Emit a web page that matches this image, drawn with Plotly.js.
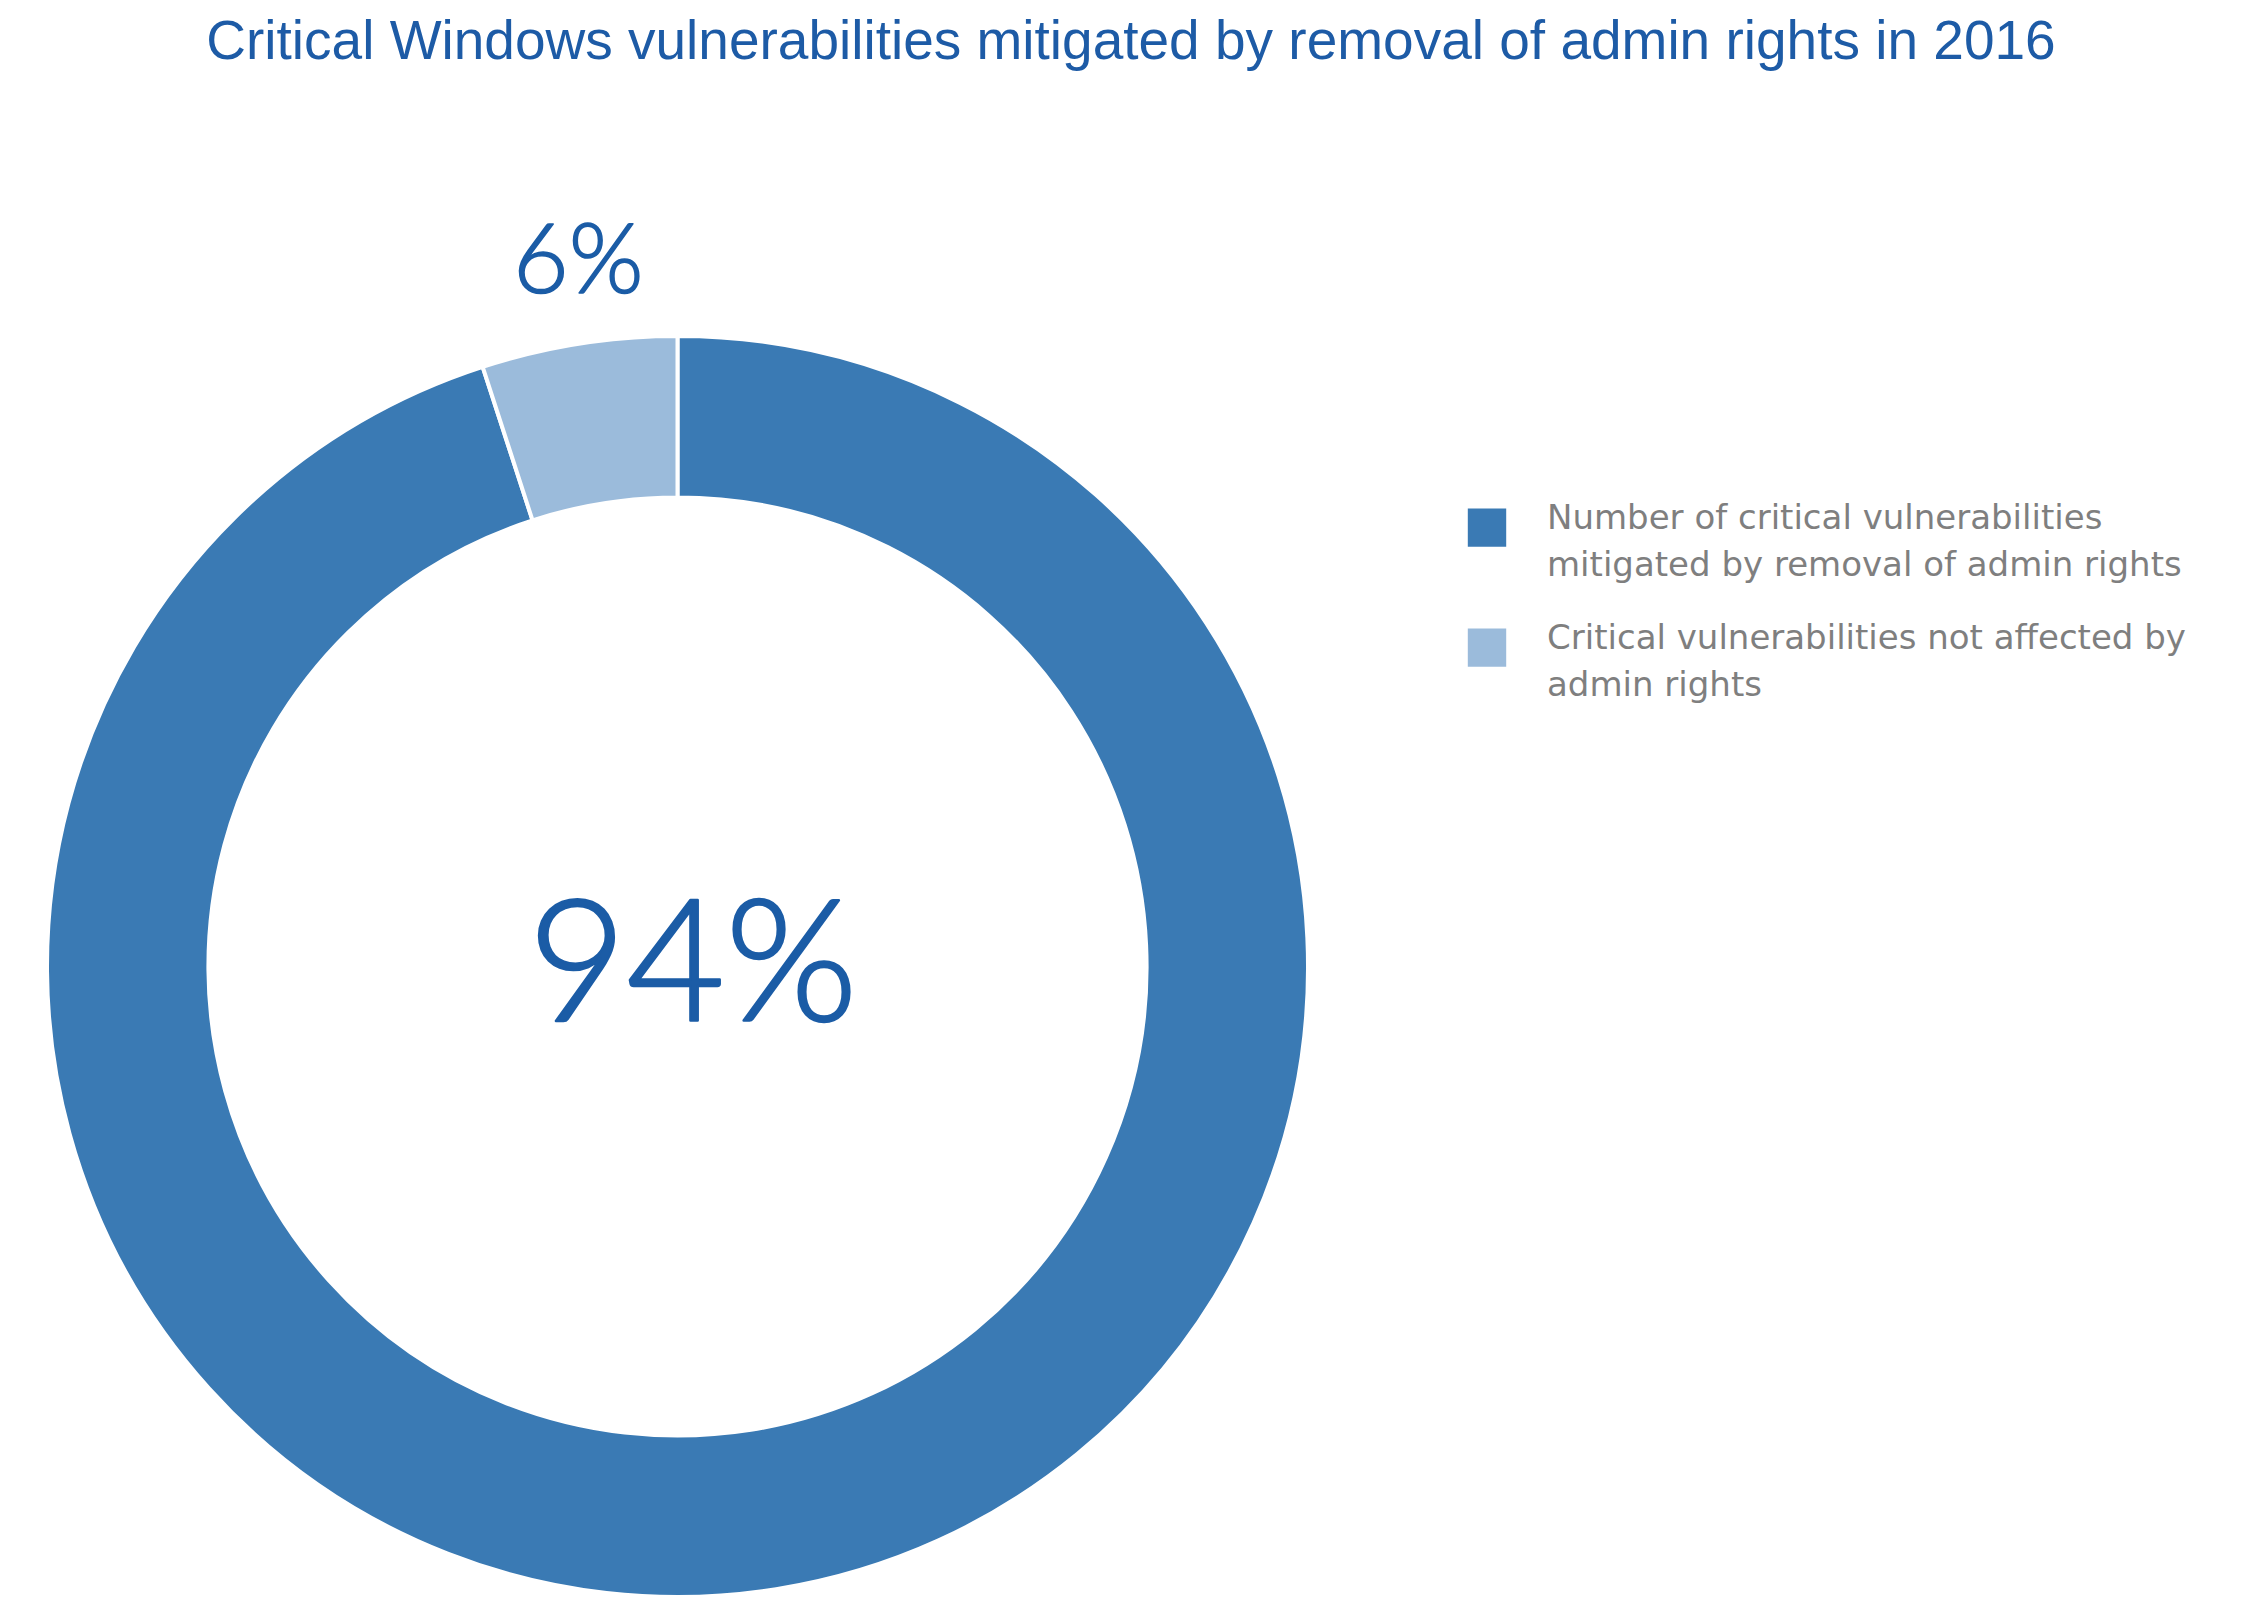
<!DOCTYPE html>
<html>
<head>
<meta charset="utf-8">
<script src="https://cdn.plot.ly/plotly-3.0.1.min.js"></script>
<style>html,body{margin:0;padding:0;background:#fff;}#chart{width:2242px;height:1620px;}</style>
</head>
<body>
<div id="chart"></div>
<script>
const categories = [
  "Number of critical vulnerabilities<br>mitigated by removal of admin rights",
  "Critical vulnerabilities not affected by<br>admin rights"
];
// slice sizes as drawn in the reference (the light slice spans about 18 degrees)
const shares = [95, 5];
// percentage labels as printed on the reference
const pctLabels = ["94%", "6%"];
const sliceColors = ["#3a7ab4", "#9bbbdb"];
const chartTitle = "Critical Windows vulnerabilities mitigated by removal of admin rights in 2016";

const W = 2242, H = 1620;

const trace = {
  type: "pie",
  labels: categories,
  values: shares,
  hole: 0.744,
  sort: false,
  direction: "clockwise",
  rotation: 0,
  textinfo: "none",
  hoverinfo: "label",
  marker: { colors: sliceColors, line: { color: "#ffffff", width: 4 } },
  domain: { x: [47 / W, 1308 / W], y: [23 / H, 1284 / H] }
};

const numColor = "#1b5ca6";
const numFont = { family: "Lato, 'Open Sans', sans-serif", color: numColor, weight: 300 };

const layout = {
  width: W, height: H,
  margin: { l: 0, r: 0, t: 0, b: 0 },
  paper_bgcolor: "#ffffff",
  title: {
    text: chartTitle,
    x: 1131 / W, xanchor: "center", y: 1 - 40 / H, yanchor: "middle",
    font: { family: "'Liberation Sans', Arial, sans-serif", size: 55, color: "#1d5ba6" }
  },
  showlegend: true,
  legend: {
    x: 1427 / W, xanchor: "left", y: 1 - 487 / H, yanchor: "top",
    font: { family: "'DejaVu Sans', sans-serif", size: 34, color: "#7f7f7f" },
    itemwidth: 110,
    valign: "top",
    bgcolor: "rgba(0,0,0,0)"
  },
  annotations: [
    {
      xref: "paper", yref: "paper", x: 578 / W, y: 1 - 256 / H,
      text: pctLabels[1], showarrow: false, xanchor: "center", yanchor: "middle",
      font: Object.assign({ size: 96 }, numFont)
    },
    {
      xref: "paper", yref: "paper", x: 693 / W, y: 1 - 955 / H,
      text: pctLabels[0], showarrow: false, xanchor: "center", yanchor: "middle",
      font: Object.assign({ size: 170 }, numFont)
    }
  ]
};

function parseTranslate(t) {
  const m = /translate\(\s*([-\d.e]+)[ ,]+([-\d.e]+)\s*\)/.exec(t || "");
  return m ? [parseFloat(m[1]), parseFloat(m[2])] : [0, 0];
}

Plotly.newPlot("chart", [trace], layout, { staticPlot: true, displayModeBar: false }).then(gd => {
  // slightly heavier, rounded strokes for the big percentage labels
  document.querySelectorAll(".annotation-text").forEach((t, i) => {
    t.style.stroke = numColor;
    t.style.strokeWidth = i === 0 ? "1.6px" : "2.6px";
    t.style.strokeLinejoin = "round";
    t.style.strokeLinecap = "round";
  });
  const leg = document.querySelector(".legend");
  if (!leg) return;
  // larger square swatches, as in the reference
  leg.querySelectorAll(".legendpoints path").forEach(p => {
    const t = p.getAttribute("transform") || "";
    p.setAttribute("transform", t + " translate(0,12) scale(3.2)");
    p.style.strokeWidth = "0px";
  });
  // looser line spacing inside each entry
  leg.querySelectorAll("text.legendtext").forEach(txt => {
    const lines = txt.querySelectorAll("tspan.line");
    lines.forEach((ts, i) => {
      if (ts.hasAttribute("dy")) ts.setAttribute("dy", (i * 1.38) + "em");
    });
  });
  // wider gap between the two entries
  const items = leg.querySelectorAll("g.traces");
  if (items.length > 1) {
    const [x0, y0] = parseTranslate(items[0].getAttribute("transform"));
    const [x1] = parseTranslate(items[1].getAttribute("transform"));
    items[1].setAttribute("transform", "translate(" + x1 + "," + (y0 + 120) + ")");
  }
  leg.querySelectorAll("[clip-path]").forEach(el => el.removeAttribute("clip-path"));
});
</script>
</body>
</html>
